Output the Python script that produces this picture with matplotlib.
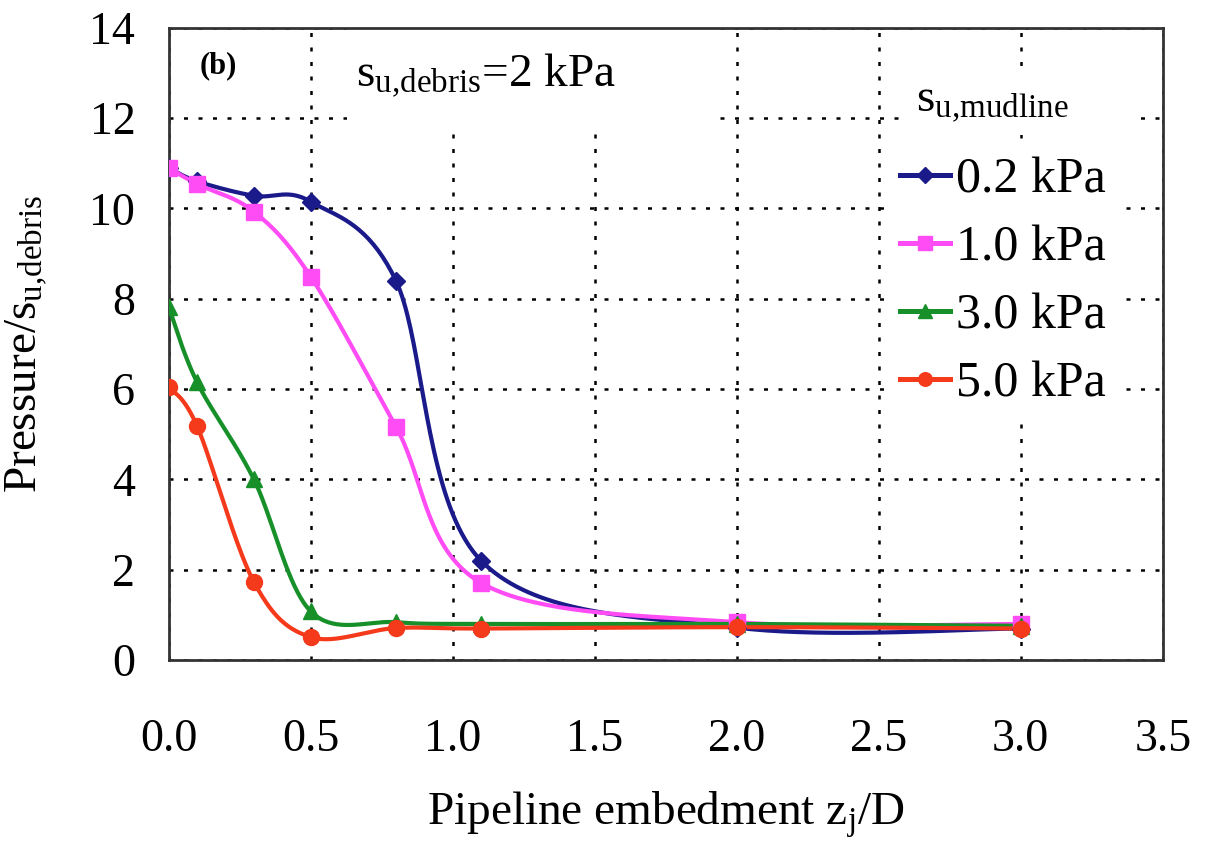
import numpy as np
import matplotlib
matplotlib.use("Agg")
import matplotlib.pyplot as plt
from matplotlib.patches import Rectangle

plt.rcParams.update(
    {
        "font.family": ["Liberation Serif", "DejaVu Serif"],
        "mathtext.fontset": "custom",
        "mathtext.rm": "Liberation Serif",
        "mathtext.it": "Liberation Serif:italic",
        "mathtext.bf": "Liberation Serif:bold",
    }
)

# embedment z/D at which each case was computed
embedment = [0.0, 0.1, 0.3, 0.5, 0.8, 1.1, 2.0, 3.0]

p_02 = [10.9, 10.6, 10.28, 10.15, 8.4, 2.2, 0.72, 0.70]
p_10 = [10.9, 10.54, 9.93, 8.49, 5.17, 1.71, 0.84, 0.80]
p_30 = [7.82, 6.15, 4.0, 1.08, 0.84, 0.80, 0.80, 0.76]
p_50 = [6.05, 5.18, 1.73, 0.51, 0.71, 0.70, 0.73, 0.70]

labels = ["0.2 kPa", "1.0 kPa", "3.0 kPa", "5.0 kPa"]
colors = ["#1a1a8a", "#ff4cf4", "#17902a", "#f53a1c"]
markers = ["D", "s", "^", "o"]
msizes = [9, 12, 11.5, 11.5]

xticks = [0.0, 0.5, 1.0, 1.5, 2.0, 2.5, 3.0, 3.5]
yticks = [0, 2, 4, 6, 8, 10, 12, 14]


def smooth(xs, ys, n=40):
    # bezier smoothing of the polyline, like a spreadsheet "smoothed line"
    pts = np.column_stack([xs, ys]).astype(float)
    out = []
    t = np.linspace(0, 1, n)[:, None]
    for i in range(len(pts) - 1):
        p0 = pts[i - 1] if i > 0 else pts[i]
        p1, p2 = pts[i], pts[i + 1]
        p3 = pts[i + 2] if i + 2 < len(pts) else pts[i + 1]
        c1 = p1 + (p2 - p0) / 6
        c2 = p2 - (p3 - p1) / 6
        seg = (1 - t) ** 3 * p1 + 3 * (1 - t) ** 2 * t * c1 + 3 * (1 - t) * t ** 2 * c2 + t ** 3 * p2
        out.append(seg if i == 0 else seg[1:])
    seg = np.vstack(out)
    return seg[:, 0], seg[:, 1]


fig = plt.figure(figsize=(12.05, 8.42), dpi=100)
ax = fig.add_axes([0.140, 0.216, 0.825, 0.751])

series = [p_02, p_10, p_30, p_50]
handles = []
for vals, lab, col, mk, ms in zip(series, labels, colors, markers, msizes):
    sx, sy = smooth(embedment, vals)
    ax.plot(sx, sy, color=col, lw=3.0, zorder=3, solid_capstyle="round")
    ax.plot(embedment, vals, ls="none", marker=mk, ms=ms, color=col, mec=col, zorder=4)
    (h,) = ax.plot([], [], color=col, lw=3.6, marker=mk, ms=ms * 0.85, mec=col, label=lab)
    handles.append(h)

ax.set_xlim(0, 3.5)
ax.set_ylim(0, 14)
ax.set_xticks(xticks)
ax.set_yticks(yticks)
ax.set_xticklabels([f"{v:.1f}" for v in xticks])
ax.tick_params(axis="x", length=0, pad=42, labelsize=33)
ax.tick_params(axis="y", length=0, pad=24, labelsize=33)
ax.grid(True, color="black", ls=(0, (1.6, 4.2)), lw=1.8, zorder=1)
ax.set_axisbelow(True)
for sp in ax.spines.values():
    sp.set_color("#333333")
    sp.set_linewidth(2.0)

ax.set_xlabel(r"Pipeline embedment z$_\mathrm{j}$/D", fontsize=34, va="top")
ax.xaxis.set_label_coords(0.5, -0.205)
ax.set_ylabel(r"Pressure/s$_\mathrm{u{,}debris}$", fontsize=34)
ax.yaxis.set_label_coords(-0.12, 0.5)

# white patch behind the annotation hides the grid there
ax.add_patch(Rectangle((0.179, 0.839), 0.367, 0.161, transform=ax.transAxes,
                       facecolor="white", edgecolor="none", zorder=2))
ax.text(0.05, 0.94, "(b)", transform=ax.transAxes, fontsize=22, fontweight="bold",
        ha="center", va="center", zorder=5)
ax.text(0.188, 0.925, r"s$_\mathrm{u{,}debris}$=2 kPa", transform=ax.transAxes,
        fontsize=34, ha="left", va="center", zorder=5)

# legend title sits in its own white box above the entries
ax.text(0.752, 0.882, r"s$_\mathrm{u{,}mudline}$", transform=ax.transAxes,
        fontsize=34, ha="left", va="center", zorder=5,
        bbox=dict(facecolor="white", edgecolor="none", pad=8))
ax.add_patch(Rectangle((0.88, 0.83), 0.095, 0.12, transform=ax.transAxes,
                       facecolor="white", edgecolor="none", zorder=2))

leg = ax.legend(handles=handles, loc="center left", bbox_to_anchor=(0.722, 0.598),
                fontsize=36, frameon=True, fancybox=False, framealpha=1.0,
                edgecolor="none", numpoints=1, handlelength=1.0,
                handletextpad=0.12, labelspacing=0.43, borderpad=0.28,
                borderaxespad=0)
leg.get_frame().set_facecolor("white")
leg.set_zorder(5)

fig.savefig("out.png", dpi=100)
